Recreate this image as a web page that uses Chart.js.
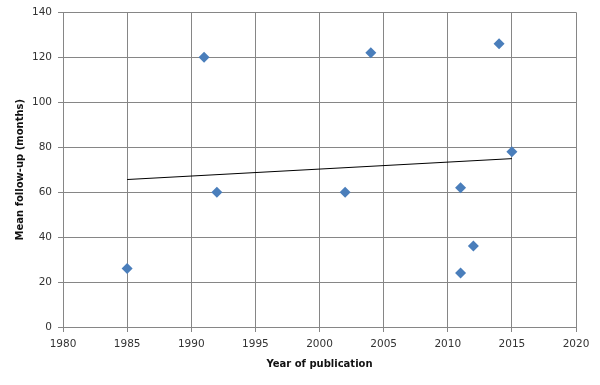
<!DOCTYPE html>
<html>
<head>
<meta charset="utf-8">
<script src="https://cdn.jsdelivr.net/npm/chart.js@4/dist/chart.umd.min.js"></script>
<style>
  html, body { margin: 0; padding: 0; background: #fff; }
  #wrap { width: 600px; height: 385px; }
</style>
</head>
<body>
<div id="wrap"><canvas id="c" width="600" height="385"></canvas></div>
<script>
const years = [1985, 1991, 1992, 2002, 2004, 2011, 2011, 2012, 2014, 2015];
const followUp = [26, 120, 60, 60, 122, 62, 24, 36, 126, 78];
const xTicks = [1980, 1985, 1990, 1995, 2000, 2005, 2010, 2015, 2020];
const yTicks = [0, 20, 40, 60, 80, 100, 120, 140];

// least-squares linear trendline over the data range
const n = years.length;
const mx = years.reduce((a, b) => a + b, 0) / n;
const my = followUp.reduce((a, b) => a + b, 0) / n;
let sxy = 0, sxx = 0;
for (let i = 0; i < n; i++) { sxy += (years[i] - mx) * (followUp[i] - my); sxx += (years[i] - mx) ** 2; }
const slope = sxy / sxx, intercept = my - slope * mx;
const xMin = Math.min(...years), xMax = Math.max(...years);
const trend = [{x: xMin, y: intercept + slope * xMin}, {x: xMax, y: intercept + slope * xMax}];

const tickFont = { family: '"DejaVu Sans", Verdana, sans-serif', size: 10.5 };
const titleFont = { family: '"DejaVu Sans", Verdana, sans-serif', size: 10, weight: 'bold' };
const gridColor = '#868686';

new Chart(document.getElementById('c'), {
  type: 'scatter',
  data: {
    datasets: [
      {
        label: 'Mean follow-up',
        data: years.map((y, i) => ({x: y, y: followUp[i]})),
        pointStyle: 'rectRot',
        pointRadius: 5.5,
        pointHoverRadius: 5.5,
        backgroundColor: '#4a7ebb',
        borderColor: '#4a7ebb',
        borderWidth: 0
      },
      {
        type: 'line',
        label: 'Trend',
        data: trend,
        borderColor: '#000',
        borderWidth: 1,
        pointRadius: 0,
        fill: false
      }
    ]
  },
  options: {
    responsive: false,
    animation: false,
    events: [],
    layout: { padding: { top: 12, right: 24, left: 0, bottom: 0 } },
    plugins: { legend: { display: false }, tooltip: { enabled: false } },
    scales: {
      x: {
        type: 'linear',
        min: 1980, max: 2020,
        afterBuildTicks: s => { s.ticks = xTicks.map(v => ({value: v})); },
        afterFit: s => { s.height = 58; },
        ticks: { font: tickFont, color: '#333', padding: 6, maxRotation: 0, callback: v => String(v) },
        grid: { color: gridColor, tickLength: 5, lineWidth: 1 },
        border: { color: gridColor },
        title: { display: true, text: 'Year of publication', font: titleFont, color: '#111', padding: { top: 5, bottom: 15 } }
      },
      y: {
        min: 0, max: 140,
        afterBuildTicks: s => { s.ticks = yTicks.map(v => ({value: v})); },
        afterFit: s => { s.width = 63; },
        ticks: { font: tickFont, color: '#333', padding: 6 },
        grid: { color: gridColor, tickLength: 5, lineWidth: 1 },
        border: { color: gridColor },
        title: { display: true, text: 'Mean follow-up (months)', font: titleFont, color: '#111', padding: { top: 14, bottom: 4 } }
      }
    }
  }
});
</script>
</body>
</html>
